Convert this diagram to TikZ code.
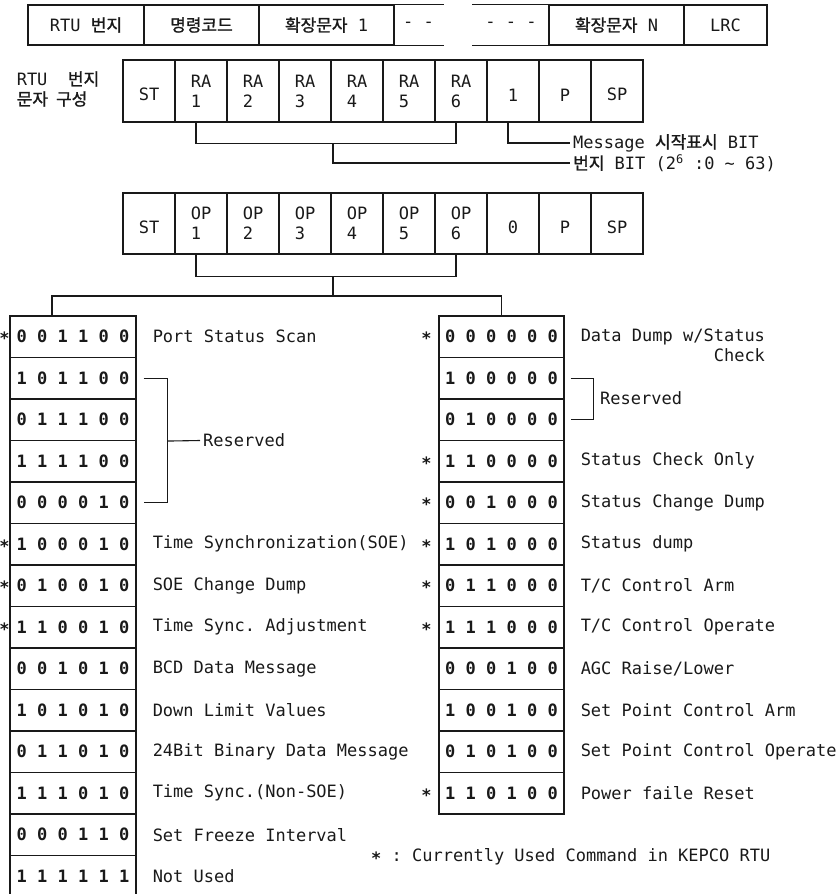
\documentclass[tikz,border=0pt]{standalone}
\usepackage{fontspec}
\setmonofont{DejaVu Sans Mono}
\newfontfamily\kr[FakeBold=1.2]{Noto Sans CJK KR}
\usepackage{tikz}
\definecolor{ink}{RGB}{25,25,25}
\newcommand{\usedstar}{\bfseries *}

\tikzset{
  every node/.style={font=\ttfamily\frenchspacing\fontsize{17}{20}\selectfont, text=ink},
  framecell/.style={draw=ink, line width=1.1pt, inner sep=0pt, minimum height=40pt},
  fieldcell/.style={draw=ink, line width=1.1pt, inner sep=0pt, minimum width=52pt, align=left},
  bitcell/.style={draw=ink, line width=1.1pt, inner sep=0pt, minimum width=126pt, minimum height=41.5pt,
    font=\ttfamily\bfseries\fontsize{17}{20}\selectfont},
  desc/.style={anchor=west, inner sep=0pt},
  usedmark/.style={anchor=base, inner sep=0pt},
  wire/.style={draw=ink, line width=1.1pt}
}

\begin{document}
\begin{tikzpicture}[x=1pt,y=-1pt]
  \useasboundingbox (0,0) rectangle (838,894);

  % message frame
  \node[framecell, minimum width=116pt] (f1) at (86,25) {RTU {\kr 번지}};
  \node[framecell, minimum width=115pt] (f2) at (201.5,25) {\kr 명령코드};
  \node[framecell, minimum width=135pt] (f3) at (326.5,25) {{\kr 확장문자} 1};
  \node[framecell, draw=none, minimum width=49pt] (f4) at (418.5,25) {- -};
  \node[framecell, draw=none, minimum width=76pt] (f5) at (511,25) {- - -};
  \node[framecell, minimum width=135pt] (f6) at (616.5,25) {{\kr 확장문자} N};
  \node[framecell, minimum width=83pt] (f7) at (725.5,25) {LRC};
  \draw[wire] (f4.north east) -- (f4.north west) -- (f4.south west) -- (f4.south east);
  \draw[wire] (f5.north west) -- (f5.north east) -- (f5.south east) -- (f5.south west);

  % address character
  \node[align=left, inner sep=0pt] (albl) at (58,89) {RTU\ \ {\kr 번지}\\{\kr 문자}\hspace{8pt}{\kr 구성}};
  \foreach \t [count=\i from 0] in {{\mbox{}\\ST},{RA\\1},{RA\\2},{RA\\3},{RA\\4},{RA\\5},{RA\\6},{\mbox{}\\1},{\mbox{}\\P},{\mbox{}\\SP}}
    \node[fieldcell, minimum height=62pt] (a\i) at (149+52*\i,91) {\t};
  \draw[wire] ([xshift=-5pt]a1.south) -- ++(0,21) -| ([xshift=-5pt]a6.south);
  \coordinate (aj) at (333,143);
  \node[desc] (amsg) at (573,143) {Message {\kr 시작표시} BIT};
  \node[desc] (abit) at (573,163) {{\kr 번지} BIT (2\textsuperscript{6} :0 \textasciitilde{} 63)};
  \draw[wire] ([xshift=-5pt]a7.south) |- ([xshift=-3pt]amsg.west);
  \draw[wire] (aj) |- ([xshift=-3pt]abit.west);

  % command character
  \foreach \t [count=\i from 0] in {{\mbox{}\\ST},{OP\\1},{OP\\2},{OP\\3},{OP\\4},{OP\\5},{OP\\6},{\mbox{}\\0},{\mbox{}\\P},{\mbox{}\\SP}}
    \node[fieldcell, minimum height=61pt] (c\i) at (149+52*\i,223.5) {\t};
  \draw[wire] ([xshift=-5pt]c1.south) -- ++(0,22) -| ([xshift=-5pt]c6.south);
  \coordinate (cj) at (333,276);
  \coordinate (csplit) at (333,296);

  % op codes
  \foreach \b [count=\i] in {0 0 1 1 0 0,1 0 1 1 0 0,0 1 1 1 0 0,1 1 1 1 0 0,0 0 0 0 1 0,1 0 0 0 1 0,0 1 0 0 1 0,
      1 1 0 0 1 0,0 0 1 0 1 0,1 0 1 0 1 0,0 1 1 0 1 0,1 1 1 0 1 0,0 0 0 1 1 0,1 1 1 1 1 1}
    \node[bitcell] (L\i) at (73,295.25+41.5*\i) {\b};
  \foreach \b [count=\i] in {0 0 0 0 0 0,1 0 0 0 0 0,0 1 0 0 0 0,1 1 0 0 0 0,0 0 1 0 0 0,1 0 1 0 0 0,
      0 1 1 0 0 0,1 1 1 0 0 0,0 0 0 1 0 0,1 0 0 1 0 0,0 1 0 1 0 0,1 1 0 1 0 0}
    \node[bitcell, minimum width=125pt] (R\i) at (501.5,295.25+41.5*\i) {\b};
  \draw[wire] (cj) -- (csplit);
  \draw[wire] ([xshift=-21pt]L1.north) |- (csplit) -| (R1.north);

  \foreach \i/\d in {1/Port Status Scan,6/Time Synchronization(SOE),7/SOE Change Dump,8/Time Sync. Adjustment,
      9/BCD Data Message,10/Down Limit Values,11/24Bit Binary Data Message,12/Time Sync.(Non-SOE),
      13/Set Freeze Interval,14/Not Used}
    \node[desc] (Ld\i) at ([xshift=16pt]L\i.east) {\d};
  \foreach \i/\d in {4/Status Check Only,5/Status Change Dump,6/Status dump,7/{T/C Control Arm},
      8/{T/C Control Operate},9/{AGC Raise/Lower},10/Set Point Control Arm,11/Set Point Control Operate,
      12/Power faile Reset}
    \node[desc] (Rd\i) at ([xshift=16pt]R\i.east) {\d};
  \node[desc] (Rd1) at ([xshift=16pt]R1.east) {Data Dump w/Status};
  \node[desc, anchor=north east] (Rd1b) at ([yshift=-3pt]Rd1.south east) {Check};

  % used commands
  \foreach \i in {1,6,7,8}
    \node[usedmark] (Ls\i) at ([xshift=-5pt,yshift=-8pt]L\i.west) {\usedstar};
  \foreach \i in {1,4,5,6,7,8,12}
    \node[usedmark] (Rs\i) at ([xshift=-12pt,yshift=-8pt]R\i.west) {\usedstar};

  % reserved codes
  \node[desc] (lres) at (203,440.5) {Reserved};
  \draw[wire] ([xshift=7pt]L2.east) -- ++(24,0) |- ([xshift=7pt]L5.east);
  \draw[wire] ([xshift=31pt]L3.south east) -- ([xshift=-3pt]lres.west);
  \node[desc] (rres) at (600,398) {Reserved};
  \draw[wire] ([xshift=6pt]R2.east) -- ++(23,0) |- ([xshift=6pt]R3.east);

  \node[desc] (note) at (371,857) {{\bfseries\raisebox{-3pt}{*}} : Currently Used Command in KEPCO RTU};
\end{tikzpicture}
\end{document}
